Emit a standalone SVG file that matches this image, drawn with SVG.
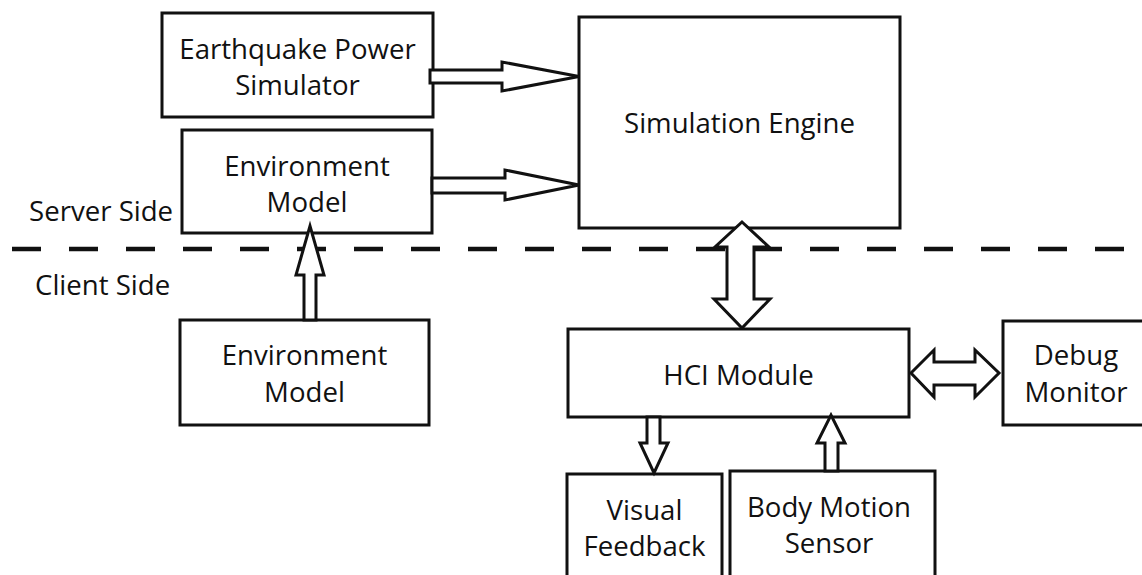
<svg xmlns="http://www.w3.org/2000/svg" width="1142" height="575" viewBox="0 0 1142 575">
<style>
.box{fill:#fff;stroke:#111;stroke-width:3}
.arr{fill:#fff;stroke:#111;stroke-width:3;stroke-linejoin:miter}
.t{font-family:"Open Sans","Noto Sans","DejaVu Sans",sans-serif;font-size:27.6px;fill:#111;text-anchor:middle}
.lbl{font-family:"Open Sans","Noto Sans","DejaVu Sans",sans-serif;font-size:27.6px;fill:#111}
</style>
<rect width="1142" height="575" fill="#fff"/>
<line x1="12" y1="249" x2="1135" y2="249" stroke="#111" stroke-width="4.5" stroke-dasharray="29 28"/>
<text class="lbl" x="29" y="221">Server Side</text>
<text class="lbl" x="35" y="295">Client Side</text>
<g id="earthquake">
<rect class="box" x="162" y="13" width="271" height="104"/>
<text class="t" x="297.5" y="59">Earthquake Power</text>
<text class="t" x="297.5" y="95">Simulator</text>
</g>
<g id="env-server">
<rect class="box" x="182" y="130" width="250" height="103"/>
<text class="t" x="307" y="176">Environment</text>
<text class="t" x="307" y="212">Model</text>
</g>
<g id="sim-engine">
<rect class="box" x="579" y="17" width="321" height="211"/>
<text class="t" x="739.5" y="133">Simulation Engine</text>
</g>
<g id="env-client">
<rect class="box" x="180" y="320" width="249" height="105"/>
<text class="t" x="304.5" y="365">Environment</text>
<text class="t" x="304.5" y="402">Model</text>
</g>
<g id="hci">
<rect class="box" x="568" y="329" width="341" height="88"/>
<text class="t" x="738.5" y="385">HCI Module</text>
</g>
<g id="debug">
<rect class="box" x="1003" y="321" width="150" height="104"/>
<text class="t" x="1076" y="365">Debug</text>
<text class="t" x="1076" y="402">Monitor</text>
</g>
<g id="visual">
<rect class="box" x="567" y="474" width="155" height="115"/>
<text class="t" x="644.5" y="520">Visual</text>
<text class="t" x="644.5" y="556">Feedback</text>
</g>
<g id="body">
<rect class="box" x="730" y="471" width="205" height="115"/>
<text class="t" x="829" y="517">Body Motion</text>
<text class="t" x="829" y="553">Sensor</text>
</g>
<g id="connectors">
<polygon class="arr" points="430,70 502,70 502,62 579,76.5 502,91 502,83 430,83"/>
<polygon class="arr" points="432,178 505,178 505,170 579,185 505,200 505,193 432,193"/>
<polygon class="arr" points="304,320 304,275 296,275 310,226 324,275 316,275 316,320"/>
<polygon class="arr" points="742,222 769,247 754,247 754,299 770,299 742,328 714,299 727,299 727,247 715,247"/>
<polygon class="arr" points="911,373 934,350 934,362 975,362 975,350 999,373 975,397 975,385 934,385 934,397"/>
<polygon class="arr" points="647,417 660,417 660,443 668,443 654,473 640,443 647,443"/>
<polygon class="arr" points="825,471 825,443 817,443 831,415 845,443 838,443 838,471"/>
</g>
</svg>
